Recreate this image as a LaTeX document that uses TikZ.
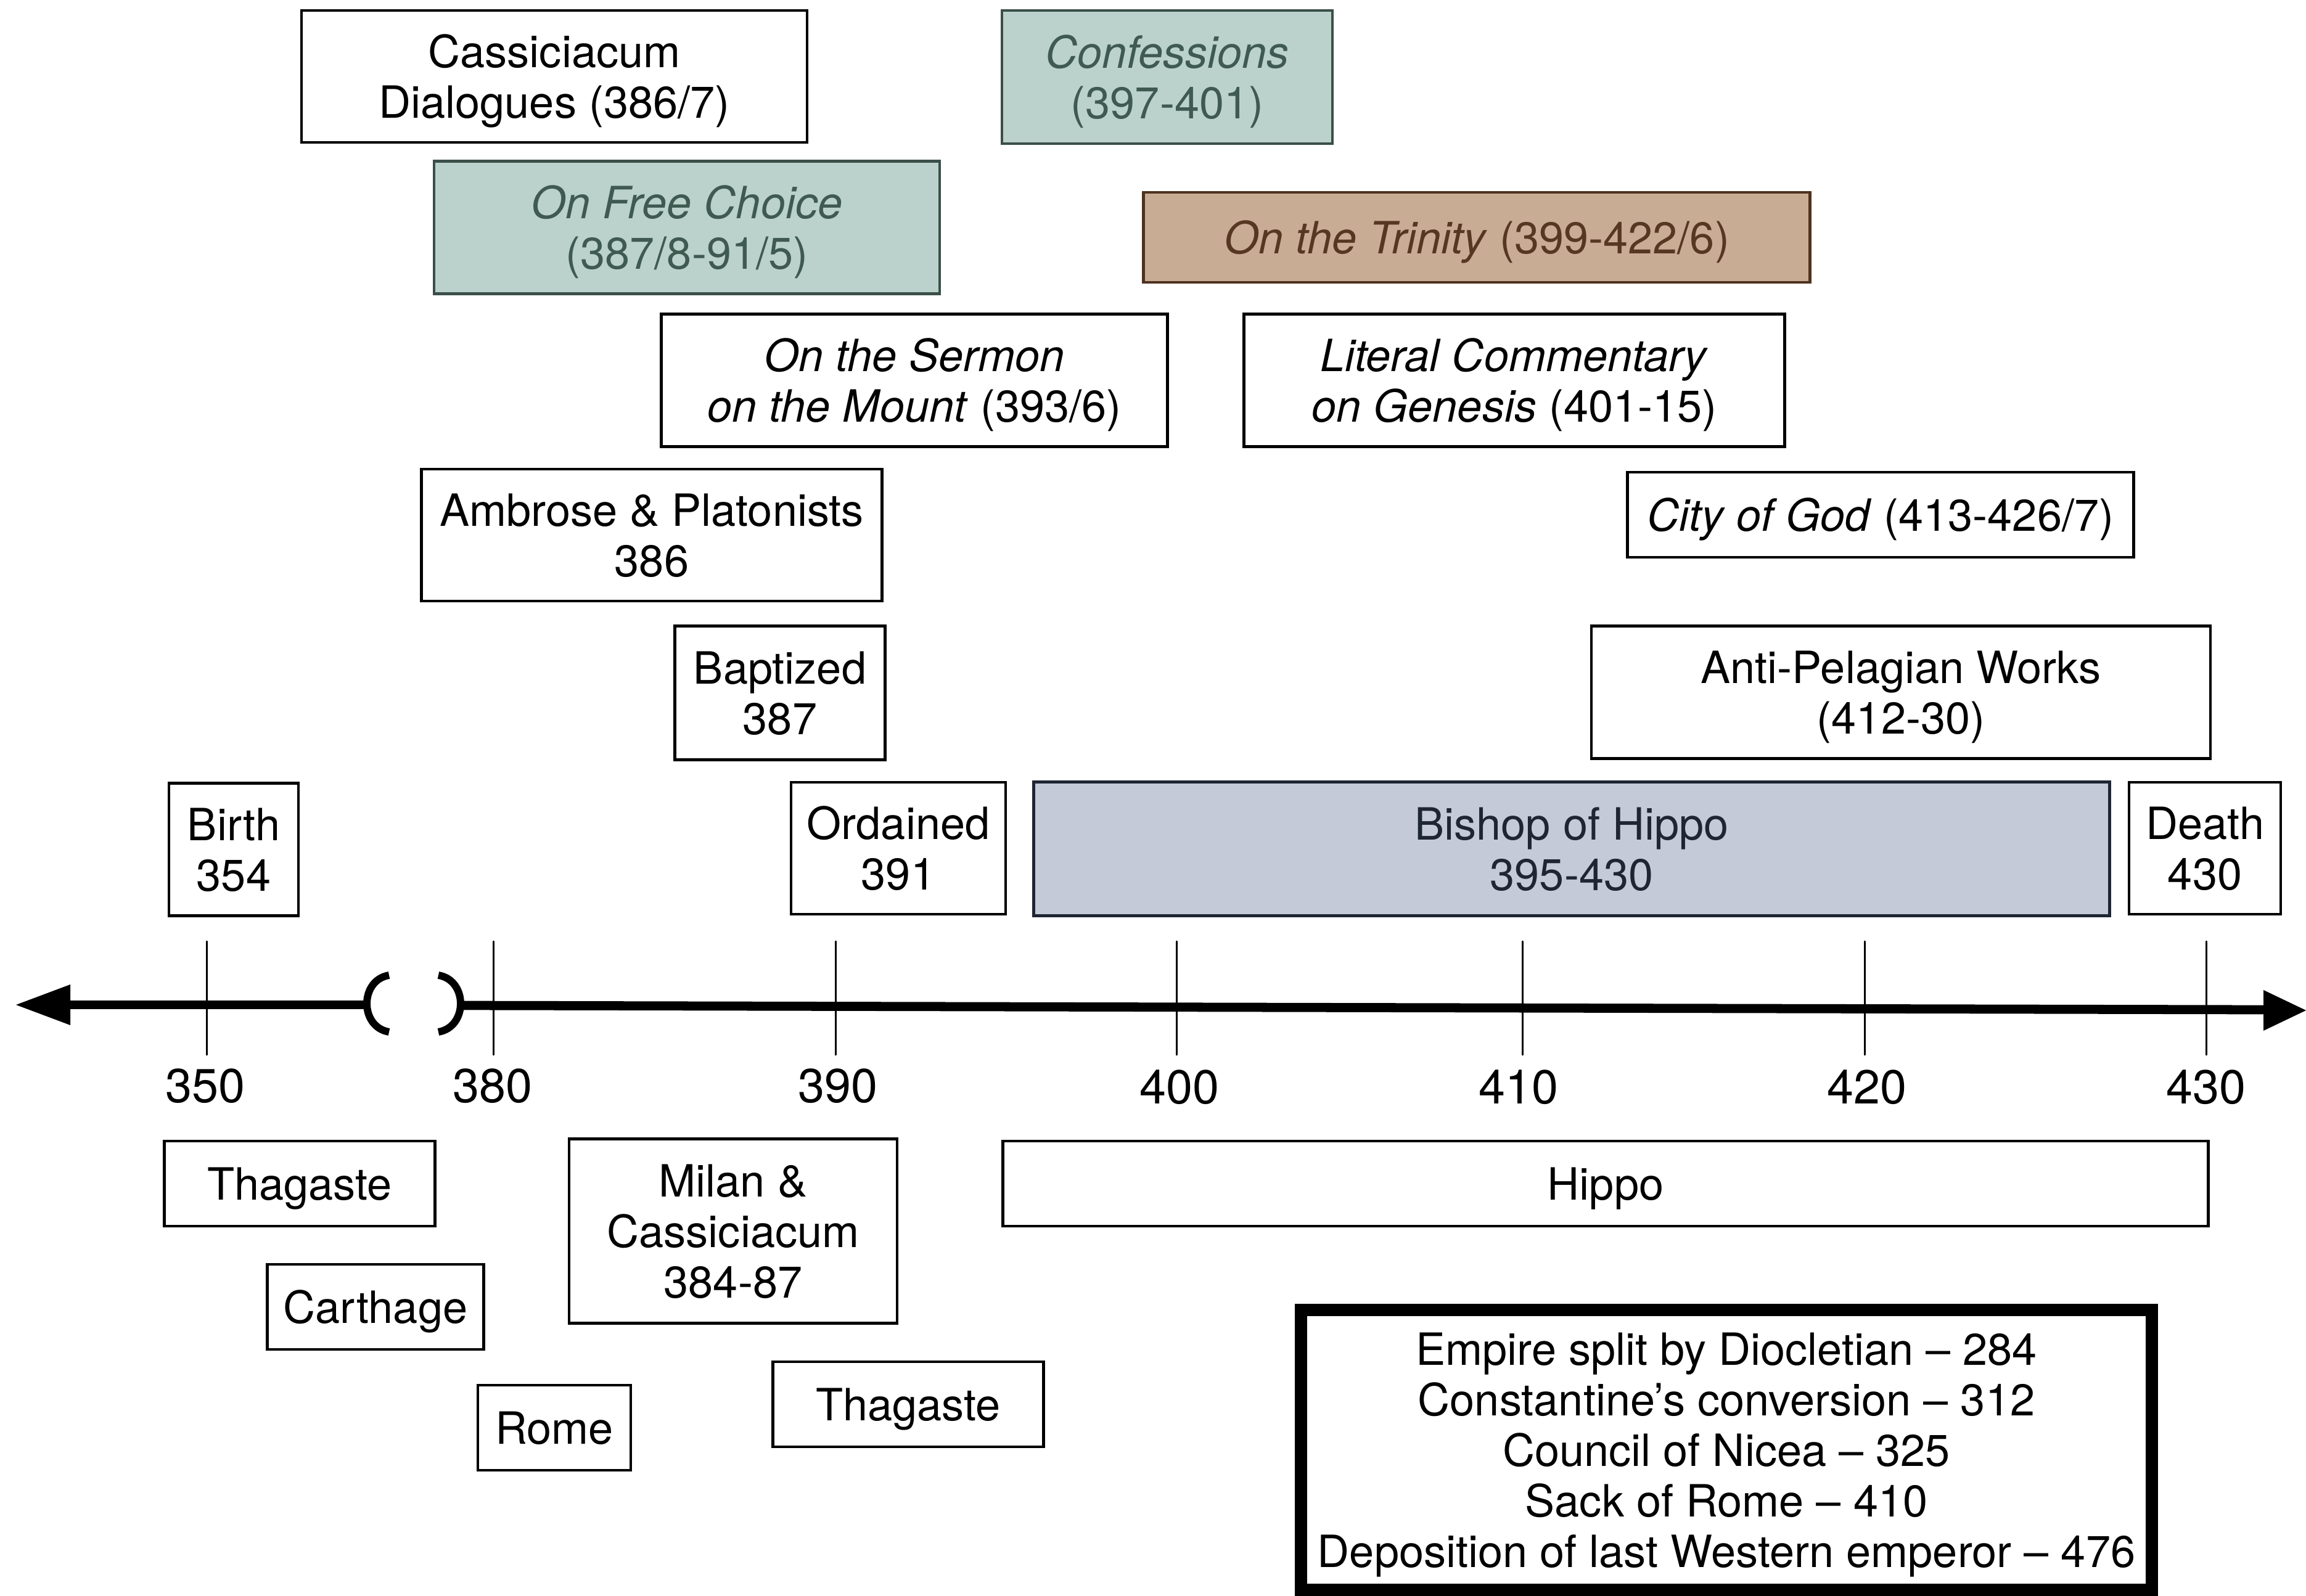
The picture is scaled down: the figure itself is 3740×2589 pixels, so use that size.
\documentclass[tikz,border=0pt]{standalone}
\usepackage{fontspec}
\setmainfont{TeX Gyre Heros}
\definecolor{tealfill}{HTML}{BBD2CC}
\definecolor{tealline}{HTML}{3A4F48}
\definecolor{tealtext}{HTML}{3F5A51}
\definecolor{tanfill}{HTML}{C9AC94}
\definecolor{tanline}{HTML}{4E3220}
\definecolor{tantext}{HTML}{563822}
\definecolor{bluefill}{HTML}{C4CAD8}
\definecolor{blueline}{HTML}{1F2633}
\definecolor{bluetext}{HTML}{1E2533}
\tikzset{
  box/.style={draw=black, line width=1.2pt, fill=white, inner sep=0pt, align=center,
    text depth=0pt, font=\fontsize{20.5}{23.3}\selectfont},
  sz/.style 2 args={minimum width={#1*0.01cm}, minimum height={#2*0.01cm}},
  tealbox/.style={box, draw=tealline, fill=tealfill, text=tealtext, line width=1.4pt},
  tanbox/.style={box, draw=tanline, fill=tanfill, text=tantext, line width=1.4pt},
  bluebox/.style={box, draw=blueline, fill=bluefill, text=bluetext, line width=1.4pt},
  eventbox/.style={box, line width=5.7pt},
  tickline/.style={line width=0.85pt, line cap=round},
  axisline/.style={line width=4.2pt},
  bracket/.style={line width=3.4pt},
  yearlab/.style={inner sep=0pt, font=\fontsize{22}{24}\selectfont},
}
\begin{document}
\begin{tikzpicture}[x=0.01cm, y=-0.01cm]
\useasboundingbox (0,0) rectangle (3740,2589);

% ---- works and life events above the axis
\node[box, sz={820}{214}] (cass) at (899,124) {Cassiciacum\\Dialogues (386/7)};
\node[tealbox, sz={536}{216}] (conf) at (1893,125) {\textit{Confessions}\\(397-401)};
\node[tealbox, sz={820}{215}] (freech) at (1114,369) {\textit{On Free Choice}\\(387/8-91/5)};
\node[tanbox, sz={1081}{146}] (trin) at (2395,385) {\textit{On the Trinity} (399-422/6)};
\node[box, sz={821}{215}] (sermon) at (1483,617) {\textit{On the Sermon}\\\textit{on the Mount} (393/6)};
\node[box, sz={877}{215}] (genesis) at (2456,617) {\textit{Literal Commentary}\\\textit{on Genesis} (401-15)};
\node[box, sz={747}{214}] (ambrose) at (1057,868) {Ambrose \& Platonists\\386};
\node[box, sz={821}{138}] (city) at (3050,835) {\textit{City of God} (413-426/7)};
\node[box, sz={341}{217}] (bapt) at (1265,1124) {Baptized\\387};
\node[box, sz={1004}{215}] (antipel) at (3083,1123) {Anti-Pelagian Works\\(412-30)};
\node[box, sz={210}{215}] (birth) at (379,1378) {Birth\\354};
\node[box, sz={348}{214}] (ordained) at (1457,1376) {Ordained\\391};
\node[bluebox, sz={1745}{217}] (bishop) at (2549,1377) {Bishop of Hippo\\395-430};
\node[box, sz={246}{214}] (death) at (3576,1376) {Death\\430};

% ---- axis
\coordinate (lefttip) at (26,1630);
\coordinate (leftend) at (593,1630);
\coordinate (rightstart) at (750,1631);
\coordinate (rightbase) at (3672,1638);
\draw[axisline] (112,1630) -- (leftend);
\draw[axisline] (rightstart) -- (rightbase);
\fill (lefttip) -- (114,1597) -- (114,1663) -- cycle;
\fill (3740,1639) -- (3671,1606) -- (3671,1672) -- cycle;
\draw[bracket] (631,1582) .. controls (583,1590) and (583,1666) .. (631,1674);
\draw[bracket] (711,1582) .. controls (759,1590) and (759,1666) .. (711,1674);

\foreach \x in {335,800,1355,1908,2469,3024,3578}
  \draw[tickline] (\x,1527) -- (\x,1711);

\node[yearlab] (y350) at (333,1762) {350};
\node[yearlab] (y380) at (799,1762) {380};
\node[yearlab] (y390) at (1359,1762) {390};
\node[yearlab] (y400) at (1913,1764) {400};
\node[yearlab] (y410) at (2463,1764) {410};
\node[yearlab] (y420) at (3028,1764) {420};
\node[yearlab] (y430) at (3578,1764) {430};

% ---- places below the axis
\node[box, sz={439}{138}] (thagA) at (486,1920) {Thagaste};
\node[box, sz={351}{138}] (carth) at (609,2120) {Carthage};
\node[box, sz={248}{138}] (rome) at (899,2316) {Rome};
\node[box, sz={532}{299}] (milan) at (1189,1997) {Milan \&\\Cassiciacum\\384-87};
\node[box, sz={439}{138}] (thagB) at (1473,2278) {Thagaste};
\node[box, sz={1955}{138}] (hippo) at (2604,1920) {Hippo};

% ---- events
\node[eventbox, sz={1380}{454}] (events) at (2800,2352)
  {Empire split by Diocletian – 284\\Constantine’s conversion – 312\\Council of Nicea – 325\\Sack of Rome – 410\\Deposition of last Western emperor – 476};
\end{tikzpicture}
\end{document}
